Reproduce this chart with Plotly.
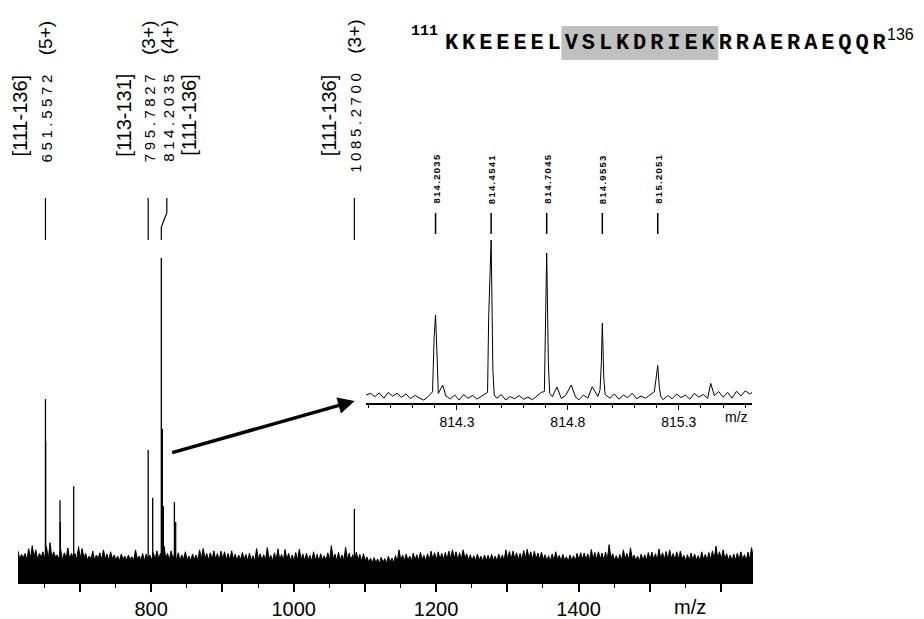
import plotly.graph_objects as go

# ---------------- data ----------------
# main spectrum noise (relative intensity, % of base peak)
noise_start, noise_step = 613, 5
noise_peak = [
    9.8, 8.8, 9.1, 10.6, 11.5, 10.2, 9.1, 9.6, 11.2, 12.4, 9.6, 8.6, 10.2, 9.3, 10.8, 9.1, 9.1, 11.2, 10.6, 9.1,
    8.3, 9.8, 8.6, 9.3, 10.2, 8.9, 9.6, 8.6, 8.3, 8.9, 8.3, 8.6, 8.1, 10.2, 8.3, 9.1, 8.9, 8.6, 9.3, 9.9,
    9.1, 11.4, 9.1, 9.9, 9.1, 9.3, 8.6, 9.6, 8.3, 8.9, 8.6, 10.2, 10.6, 9.1, 9.3, 9.9, 9.1, 9.8, 9.6, 9.1,
    9.9, 8.9, 8.6, 9.4, 8.8, 9.2, 8.4, 10.6, 9.0, 8.7, 10.9, 8.5, 9.3, 10.5, 8.8, 10.3, 9.1, 8.6, 9.4, 10.4,
    8.9, 9.2, 8.5, 9.6, 8.8, 9.0, 8.4, 9.3, 11.5, 8.9, 9.4, 8.6, 11.0, 9.2, 8.7, 9.5, 8.8, 9.0, 8.0, 7.6,
    7.8, 7.4, 7.9, 7.5, 8.2, 7.7, 8.4, 10.2, 8.6, 8.9, 8.3, 9.2, 8.7, 9.4, 8.5, 9.0, 9.8, 9.3, 9.6, 9.1,
    9.4, 9.8, 10.2, 9.6, 9.3, 10.2, 9.0, 8.7, 8.4, 8.9, 8.2, 8.6, 8.5, 8.8, 8.3, 8.9, 8.6, 10.2, 9.7, 9.8,
    9.3, 9.1, 10.0, 10.4, 9.6, 9.8, 9.2, 9.5, 8.7, 8.4, 8.9, 9.6, 8.5, 8.8, 8.1, 8.6, 8.4, 9.1, 9.3, 9.2,
    9.0, 10.3, 9.4, 9.6, 9.2, 9.5, 11.8, 9.0, 8.4, 8.8, 10.2, 9.1, 10.8, 8.6, 8.3, 8.9, 8.7, 9.4, 9.5, 9.0,
    10.5, 9.3, 9.7, 10.2, 9.1, 9.6, 9.8, 8.5, 8.7, 9.2, 8.9, 8.4, 9.6, 8.8, 9.4, 9.9, 11.3, 9.6, 10.2, 9.0,
    8.6, 8.9, 9.2, 9.6, 8.7, 9.5, 10.9,
]
noise_valley = [
    7.4, 7.8, 7.1, 7.6, 8.0, 7.3, 7.9, 7.5, 7.2, 7.7, 8.1, 7.4, 7.0, 7.6, 7.3, 7.9, 7.2, 7.5, 7.8, 7.1,
    7.3, 7.0, 7.6, 7.2, 7.4, 6.9, 7.5, 7.1, 6.8, 7.3, 7.0, 7.2, 6.9, 7.4, 7.1, 6.8, 7.2, 7.0, 7.3, 7.5,
    7.2, 7.6, 7.0, 7.4, 7.1, 6.9, 7.3, 7.0, 6.8, 7.2, 7.1, 7.4, 7.5, 7.0, 7.2, 7.3, 6.9, 7.4, 7.1, 7.0,
    7.3, 6.9, 7.1, 7.2, 6.8, 7.0, 6.7, 7.3, 7.0, 6.9, 7.4, 6.8, 7.1, 7.2, 6.9, 7.3, 7.0, 6.8, 7.1, 7.2,
    6.9, 7.1, 6.7, 7.0, 6.8, 7.2, 6.9, 7.0, 7.4, 6.8, 7.1, 6.9, 7.3, 7.0, 6.8, 7.1, 6.7, 6.9, 6.4, 6.2,
    6.3, 6.0, 6.4, 6.1, 6.5, 6.2, 6.6, 7.0, 6.8, 7.0, 6.7, 7.1, 6.9, 7.2, 6.8, 7.0, 7.3, 7.1, 7.4, 7.2,
    7.3, 7.5, 7.6, 7.2, 7.4, 7.6, 7.1, 7.0, 6.8, 7.1, 6.7, 6.9, 6.8, 7.0, 6.7, 7.1, 6.9, 7.4, 7.3, 7.5,
    7.2, 7.1, 7.5, 7.6, 7.3, 7.4, 7.1, 7.2, 6.9, 6.8, 7.0, 7.3, 6.8, 7.0, 6.6, 6.9, 6.8, 7.1, 7.2, 7.1,
    7.0, 7.4, 7.2, 7.3, 7.1, 7.2, 7.6, 7.0, 6.8, 6.9, 7.4, 7.1, 7.5, 6.9, 6.7, 7.0, 6.9, 7.2, 7.3, 7.0,
    7.5, 7.2, 7.3, 7.5, 7.1, 7.3, 7.4, 6.8, 6.9, 7.1, 7.0, 6.8, 7.3, 7.0, 7.2, 7.4, 7.6, 7.3, 7.4, 7.0,
    6.9, 7.0, 7.2, 7.3, 6.9, 7.2, 7.5,
]

# main spectrum signal peaks (centroid sticks)
peak_mz = [651.56, 651.76, 672.0, 672.3, 691.2, 795.78, 802.1, 814.20, 815.7, 817.1, 832.6, 834.4, 1085.27]
peak_int = [56.6, 43.4, 25.5, 18.8, 29.8, 40.9, 26.2, 100.0, 47.4, 23.7, 24.9, 18.8, 22.8]

# annotated ions
label_mz = [651.5572, 795.7827, 814.2035, 1085.2700]
label_mass = ["651.5572", "795.7827", "814.2035", "1085.2700"]
label_charge = ["(5+)", "(3+)", "(4+)", "(3+)"]
label_range = ["[111-136]", "[113-131]", "[111-136]", "[111-136]"]

# inset: zoom of the 4+ isotope cluster (profile data)
inset_mz = [
    813.89, 813.91, 813.93, 813.95, 813.97, 813.99, 814.01, 814.03, 814.05, 814.07, 814.09, 814.11, 814.13,
    814.15, 814.17, 814.19, 814.197, 814.2035, 814.21, 814.216, 814.236, 814.25, 814.27, 814.29, 814.31,
    814.33, 814.35, 814.37, 814.39, 814.41, 814.43, 814.438, 814.443, 814.4541, 814.462, 814.468, 814.48,
    814.50, 814.52, 814.54, 814.56, 814.58, 814.60, 814.62, 814.64, 814.66, 814.68, 814.694, 814.699,
    814.7045, 814.712, 814.718, 814.73, 814.751, 814.77, 814.79, 814.815, 814.835, 814.85, 814.87, 814.89,
    814.91, 814.935, 814.945, 814.951, 814.9553, 814.962, 814.968, 814.99, 815.01, 815.03, 815.05, 815.07,
    815.09, 815.11, 815.13, 815.15, 815.17, 815.19, 815.197, 815.2051, 815.212, 815.218, 815.23, 815.25,
    815.27, 815.29, 815.31, 815.33, 815.35, 815.37, 815.39, 815.41, 815.43, 815.444, 815.46, 815.48,
    815.50, 815.52, 815.54, 815.56, 815.58, 815.60, 815.62, 815.63,
]
inset_int = [
    4.9, 5.9, 3.9, 6.2, 2.9, 6.5, 4.2, 5.9, 3.5, 5.6, 2.6, 4.6, 3.2,
    1.8, 3.9, 6.9, 40.0, 54.0, 30.0, 5.9, 11.0, 4.3, 2.5, 4.9, 1.8,
    5.2, 2.9, 4.6, 2.4, 3.9, 5.9, 6.5, 53.0, 100.0, 20.0, 4.9, 2.9,
    5.2, 1.8, 3.9, 2.6, 4.6, 2.3, 3.6, 2.0, 4.3, 6.5, 7.0, 45.0,
    92.0, 25.0, 5.9, 3.9, 9.8, 2.9, 4.6, 11.0, 3.6, 2.0, 4.9, 3.0,
    10.0, 4.0, 8.0, 25.0, 49.0, 15.0, 5.2, 2.9, 5.5, 2.3, 4.9, 3.3,
    5.9, 2.6, 4.3, 2.9, 5.2, 7.0, 14.5, 23.0, 10.0, 4.3, 2.0, 4.6,
    2.6, 5.5, 3.3, 4.9, 2.3, 5.9, 3.6, 5.2, 2.9, 12.0, 4.6, 7.0,
    3.6, 6.5, 3.0, 7.2, 4.3, 7.5, 5.5, 6.5,
]
iso_mz = [814.2035, 814.4541, 814.7045, 814.9553, 815.2051]
iso_text = ["814.2035", "814.4541", "814.7045", "814.9553", "815.2051"]

# peptide sequence
sequence = "KKEEEELVSLKDRIEKRRAERAEQQR"
seq_first, seq_last = 111, 136
highlight_first, highlight_last = 118, 126

main_ticks = [800, 1000, 1200, 1400]
inset_ticks = [814.3, 814.8, 815.3]

# ---------------- geometry / style ----------------
W, H = 924, 619
ML, MR, MT, MB = 18, 171, 0, 36
PW, PH = W - ML - MR, H - MT - MB
X_RANGE = [613, 1645]
Y_TOP = 179.4  # main y range top (base peak = 100)
MZ_PER_PX = (X_RANGE[1] - X_RANGE[0]) / PW


def px_x(p):
    return (p - ML) / PW


def px_y(p):
    return (H - MB - p) / PH


def main_y(p):
    return (H - MB - p) / PH * Y_TOP


INSET_X = [366, 752]
INSET_BASE, INSET_TOP = 403, 200
INSET_YMAX = (INSET_BASE - INSET_TOP) / 1.63


def inset_y(p):
    return (INSET_BASE - p) / 1.63


FONT = "Arial, Liberation Sans, sans-serif"
MONO = "Courier New, Liberation Mono, monospace"

fig = go.Figure()

# noise band (interleaved maxima/minima)
nx, ny = [], []
for i, (pk, vl) in enumerate(zip(noise_peak, noise_valley)):
    m = noise_start + i * noise_step
    nx += [m, m + noise_step / 2]
    ny += [pk, vl]
fig.add_trace(go.Scatter(x=nx, y=ny, mode="lines", line=dict(color="black", width=1),
                         fill="tozeroy", fillcolor="black", hoverinfo="skip"))

# sticks for peaks
sx, sy = [], []
for m, v in zip(peak_mz, peak_int):
    sx += [m, m, None]
    sy += [0, v, None]
fig.add_trace(go.Scatter(x=sx, y=sy, mode="lines", line=dict(color="black", width=1.3),
                         hoverinfo="skip"))

# inset trace
fig.add_trace(go.Scatter(x=inset_mz, y=inset_int, mode="lines", xaxis="x2", yaxis="y2",
                         line=dict(color="black", width=1), hoverinfo="skip"))

annotations = []
shapes = []

# ion labels in main spectrum
label_shift_px = [0, 0, 5.5, 0]
range_shift_px = [-25, -25, 22, -25]
for m, mass, ch, rg, sh, rs in zip(label_mz, label_mass, label_charge, label_range,
                                   label_shift_px, range_shift_px):
    annotations.append(dict(
        x=m, y=main_y(18), xref="x", yref="y", xshift=sh, xanchor="center", yanchor="top",
        textangle=-90, showarrow=False, font=dict(family=FONT, size=19, color="black"),
        text=f"<span style='font-size:15px;letter-spacing:3.6px'>{mass}</span>&nbsp;&nbsp;&nbsp;{ch}"))
    annotations.append(dict(
        x=m, y=main_y(72), xref="x", yref="y", xshift=sh + rs, xanchor="center", yanchor="top",
        textangle=-90, showarrow=False, font=dict(family=FONT, size=20, color="black"), text=rg))
    xs = m + sh * MZ_PER_PX
    if sh == 0:
        path = f"M {m},{main_y(240)} L {m},{main_y(198)}"
    else:
        path = (f"M {xs},{main_y(198)} L {xs},{main_y(213)} "
                f"L {m},{main_y(227)} L {m},{main_y(240)}")
    shapes.append(dict(type="path", xref="x", yref="y", path=path,
                       line=dict(color="black", width=1.2)))

# inset labels
for m, t in zip(iso_mz, iso_text):
    annotations.append(dict(
        x=m, y=inset_y(206), xref="x2", yref="y2", xanchor="center", yanchor="bottom",
        textangle=-90, showarrow=False, font=dict(family=FONT, size=9.5, color="black"),
        text=f"<b><span style='letter-spacing:1.3px'>{t}</span></b>"))
    shapes.append(dict(type="line", xref="x2", yref="y2", x0=m, x1=m,
                       y0=inset_y(234), y1=inset_y(213), line=dict(color="black", width=1.5)))

# arrow from main peak to inset
annotations.append(dict(
    x=800 + (354 - 150.5) * MZ_PER_PX, y=main_y(401), ax=800 + (170 - 150.5) * MZ_PER_PX, ay=main_y(453),
    xref="x", yref="y", axref="x", ayref="y", text="", showarrow=True,
    arrowhead=2, arrowsize=0.95, arrowwidth=3.5, arrowcolor="black"))

# axis titles
annotations.append(dict(x=px_x(690), y=px_y(607), xref="paper", yref="paper", text="m/z",
                        showarrow=False, xanchor="center", yanchor="middle",
                        font=dict(family=FONT, size=20, color="black")))
annotations.append(dict(x=px_x(736), y=px_y(417), xref="paper", yref="paper", text="m/z",
                        showarrow=False, xanchor="center", yanchor="middle",
                        font=dict(family=FONT, size=14, color="black")))

# peptide sequence
SEQ_X0, CHAR_ADV = 442.7, 17.1
annotations.append(dict(x=px_x(409), y=px_y(32), xref="paper", yref="paper", text=f"<b>{seq_first}</b>",
                        showarrow=False, xanchor="left", yanchor="middle",
                        font=dict(family=MONO, size=15, color="black")))
annotations.append(dict(x=px_x(SEQ_X0), y=px_y(44), xref="paper", yref="paper",
                        text=f"<b><span style='letter-spacing:3.9px'>{sequence}</span></b>",
                        showarrow=False, xanchor="left", yanchor="middle",
                        font=dict(family=MONO, size=22, color="black")))
annotations.append(dict(x=px_x(SEQ_X0 + len(sequence) * CHAR_ADV - 2), y=px_y(34), xref="paper", yref="paper",
                        text=f"{seq_last}", showarrow=False, xanchor="left", yanchor="middle",
                        font=dict(family=FONT, size=16, color="black")))
h0 = SEQ_X0 + (highlight_first - seq_first) * CHAR_ADV
h1 = SEQ_X0 + (highlight_last - seq_first + 1) * CHAR_ADV
shapes.append(dict(type="rect", xref="paper", yref="paper", x0=px_x(h0 - 1), x1=px_x(h1 + 2),
                   y0=px_y(60), y1=px_y(26), fillcolor="#c0c0c0", line=dict(width=0), layer="below"))

major = list(range(700, 1601, 100))
fig.update_layout(
    width=W, height=H, margin=dict(l=ML, r=MR, t=MT, b=MB),
    paper_bgcolor="white", plot_bgcolor="white", showlegend=False,
    xaxis=dict(range=X_RANGE, domain=[0, 1], showgrid=False, zeroline=False, showline=True,
               linecolor="black", linewidth=1, ticks="outside", ticklen=8, tickwidth=1.5,
               tickcolor="black", tickmode="array", tickvals=major,
               ticktext=[str(v) if v in main_ticks else "" for v in major],
               tickfont=dict(family=FONT, size=20, color="black"),
               minor=dict(tickmode="array", tickvals=list(range(650, 1651, 100)), ticks="outside",
                          ticklen=4, tickwidth=1.2, tickcolor="black", showgrid=False)),
    yaxis=dict(range=[0, Y_TOP], visible=False, domain=[0, 1]),
    xaxis2=dict(anchor="y2", domain=[px_x(INSET_X[0]), px_x(INSET_X[1])],
                range=[813.89, 815.63], showgrid=False, zeroline=False, showline=True,
                linecolor="black", linewidth=1.5, ticks="outside", ticklen=5, tickwidth=1.2,
                tickcolor="black", tickmode="array", tickvals=inset_ticks,
                ticktext=[f"{v:.1f}" for v in inset_ticks],
                tickfont=dict(family=FONT, size=14, color="black"),
                minor=dict(tickmode="array", tickvals=[round(813.9 + 0.1 * k, 1) for k in range(18)],
                           ticks="outside", ticklen=3, tickwidth=1, tickcolor="black", showgrid=False)),
    yaxis2=dict(anchor="x2", domain=[px_y(INSET_BASE), px_y(INSET_TOP)], range=[0, INSET_YMAX],
                visible=False),
    annotations=annotations, shapes=shapes,
)

fig.write_html("out.html", config={"displayModeBar": False},
               post_script="document.body.style.margin='0px';document.body.style.overflow='hidden';")
